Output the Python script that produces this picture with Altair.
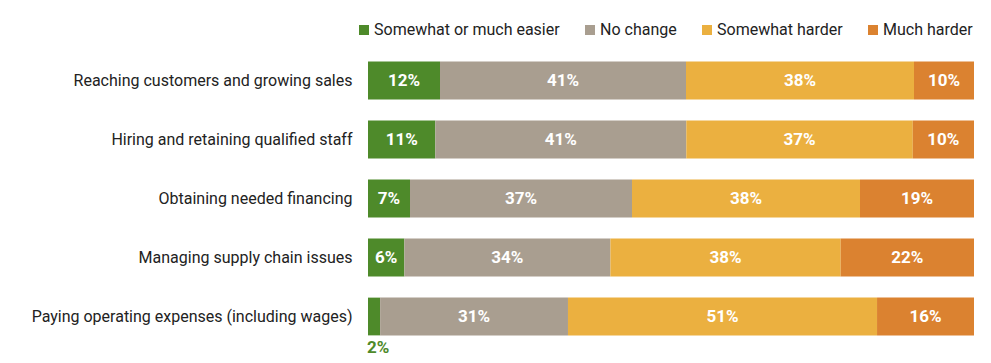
import altair as alt
import pandas as pd

categories = [
    "Reaching customers and growing sales",
    "Hiring and retaining qualified staff",
    "Obtaining needed financing",
    "Managing supply chain issues",
    "Paying operating expenses (including wages)",
]
series = ["Somewhat or much easier", "No change", "Somewhat harder", "Much harder"]
easier = [12, 11, 7, 6, 2]
no_change = [41, 41, 37, 34, 31]
somewhat_harder = [38, 37, 38, 38, 51]
much_harder = [10, 10, 19, 22, 16]
colors = ["#4e8a2a", "#a99e90", "#ebb040", "#db8230"]

rows = []
for i, c in enumerate(categories):
    for j, (s, vals) in enumerate(zip(series, [easier, no_change, somewhat_harder, much_harder])):
        rows.append({"category": c, "series": s, "order": j, "value": vals[i],
                     "label": f"{vals[i]}%"})
df = pd.DataFrame(rows)

FONT = "Roboto"

base = alt.Chart(df).transform_stack(
    stack="value", groupby=["category"], as_=["v0", "v1"],
    sort=[alt.SortField("order", order="ascending")], offset="normalize"
).transform_calculate(mid="(datum.v0 + datum.v1) / 2")

yenc = alt.Y("category:N", sort=categories, title=None,
             scale=alt.Scale(paddingInner=0.36, paddingOuter=0.18),
             axis=alt.Axis(ticks=False, domain=False, labelFontSize=16,
                           labelColor="#222222", labelFont=FONT, labelPadding=16,
                           labelLimit=400))

bars = base.mark_bar().encode(
    x=alt.X("v0:Q", scale=alt.Scale(domain=[0, 1]), axis=None),
    x2="v1:Q",
    y=yenc,
    color=alt.Color("series:N", sort=series,
                    scale=alt.Scale(domain=series, range=colors),
                    legend=alt.Legend(title=None, orient="none", direction="horizontal",
                                      legendX=-12, legendY=-29, symbolType="square",
                                      symbolSize=100, symbolStrokeWidth=0,
                                      labelFontSize=16, labelFont=FONT,
                                      labelColor="#222222", columnPadding=22,
                                      labelOffset=2, columns=4, labelLimit=400)),
)

labels_in = base.transform_filter("datum.value >= 4").mark_text(
    color="white", fontWeight="bold", fontSize=17, font=FONT
).encode(x=alt.X("mid:Q"), y=alt.Y("category:N", sort=categories), text="label:N")

labels_out = base.transform_filter("datum.value < 4").mark_text(
    color="#4e8a2a", fontWeight="bold", fontSize=17, font=FONT, dy=31, dx=4
).encode(x=alt.X("mid:Q"), y=alt.Y("category:N", sort=categories), text="label:N")

chart = alt.layer(bars, labels_in, labels_out).properties(
    width=606, height=295,
    autosize=alt.AutoSizeParams(type="none"),
    padding={"left": 360, "top": 43, "right": 9, "bottom": 9},
).configure_view(stroke=None)

chart.save("out.html", embed_options={"renderer": "svg", "actions": False})
